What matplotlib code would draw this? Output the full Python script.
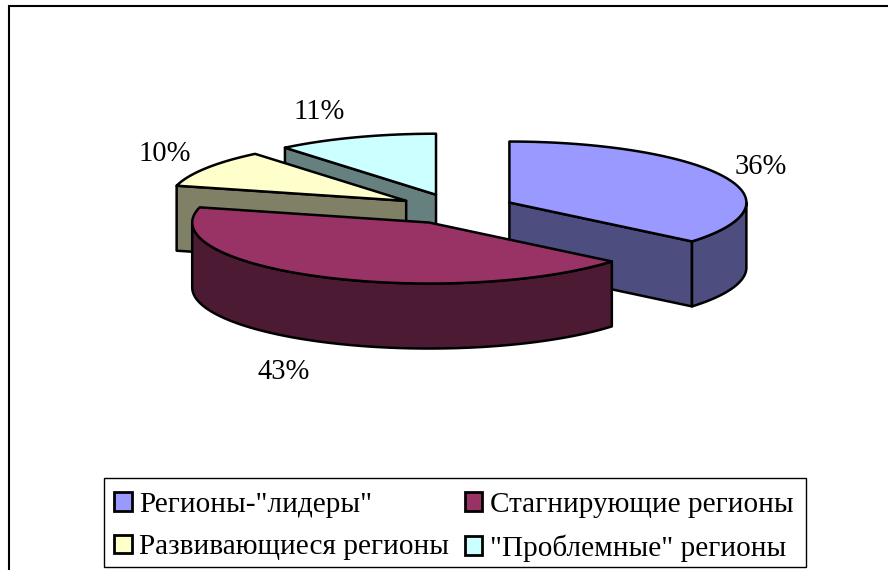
import numpy as np
import matplotlib
matplotlib.use('Agg')
import matplotlib.pyplot as plt
from matplotlib.patches import Polygon, Patch, Rectangle

plt.rcParams['font.family'] = ['Liberation Serif', 'DejaVu Serif']

categories = ['Регионы-"лидеры"', 'Стагнирующие регионы', 'Развивающиеся регионы', '"Проблемные" регионы']
shares = [36, 43, 10, 11]
top_colors = ['#9999FF', '#993366', '#FFFFCC', '#CCFFFF']
side_colors = ['#4D4D80', '#4D1A33', '#808066', '#668080']
label_pos = [(761, 167), (284, 372), (165, 154), (319, 112)]

# pie geometry, in pixels of the picture
CX, CY = 456, 209
RX, RY = 237, 61
DEPTH = 65
EXPLODE = 59
LW = 1.8

fig = plt.figure(figsize=(8.88, 5.70), dpi=100)
ax = fig.add_axes([0, 0, 1, 1])
ax.set_xlim(0, 888)
ax.set_ylim(570, 0)
ax.axis('off')

# chart frame
ax.plot([9, 9, 888], [570, 6, 6], color='black', lw=1.5, solid_joinstyle='miter')


def rim(cx, cy, a0, a1, dy=0):
    # a is measured clockwise from the top, degrees
    a = np.radians(np.linspace(a0, a1, 80))
    return np.column_stack([cx + RX * np.sin(a), cy - RY * np.cos(a) + dy])


edges = np.cumsum([0] + shares) * 3.6
slices = []
for i, share in enumerate(shares):
    a0, a1 = edges[i], edges[i + 1]
    mid = np.radians((a0 + a1) / 2)
    cx = CX + EXPLODE * np.sin(mid)
    cy = CY - EXPLODE * RY / RX * np.cos(mid)
    slices.append((i, a0, a1, cx, cy))

# back slices first, the big maroon one last
for i, a0, a1, cx, cy in [slices[3], slices[2], slices[0], slices[1]]:
    kw = dict(edgecolor='black', lw=LW, joinstyle='round', facecolor=side_colors[i])
    # cut faces, drawn only when they turn towards the viewer
    for a, seen in [(a0, np.sin(np.radians(a0)) < -0.01), (a1, np.sin(np.radians(a1)) > 0.01)]:
        if seen:
            p = rim(cx, cy, a, a)[0]
            ax.add_patch(Polygon([p, (cx, cy), (cx, cy + DEPTH), (p[0], p[1] + DEPTH)], **kw))
    # outer wall, the part of the rim between 90 and 270 degrees
    lo, hi = max(a0, 90), min(a1, 270)
    if lo < hi:
        upper = rim(cx, cy, lo, hi)
        lower = rim(cx, cy, lo, hi, DEPTH)
        ax.add_patch(Polygon(np.vstack([upper, lower[::-1]]), **kw))
    top = np.vstack([[(cx, cy)], rim(cx, cy, a0, a1)])
    ax.add_patch(Polygon(top, edgecolor='black', lw=LW, joinstyle='round', facecolor=top_colors[i]))

for share, (x, y) in zip(shares, label_pos):
    ax.text(x, y, f'{share}%', ha='center', va='center', fontsize=20.6, color='black')

# legend box is drawn apart, the entries sit low in it
ax.add_patch(Rectangle((104, 478), 702, 89, facecolor='white', edgecolor='black', lw=1.0))
handles = [Patch(facecolor=c, edgecolor='black', lw=2.0) for c in top_colors]
# matplotlib fills a 2-column legend by column, so swap the middle entries
order = [0, 2, 1, 3]
leg = ax.legend([handles[i] for i in order], [categories[i] for i in order], ncols=2,
                loc='lower left', bbox_to_anchor=(104 / 888, -2 / 570), borderaxespad=0,
                fontsize=21.1, frameon=False,
                handlelength=0.6, handleheight=0.6, handletextpad=0.26, columnspacing=0.52,
                labelspacing=0.56, borderpad=0.35)

fig.savefig('out.png', dpi=100)
